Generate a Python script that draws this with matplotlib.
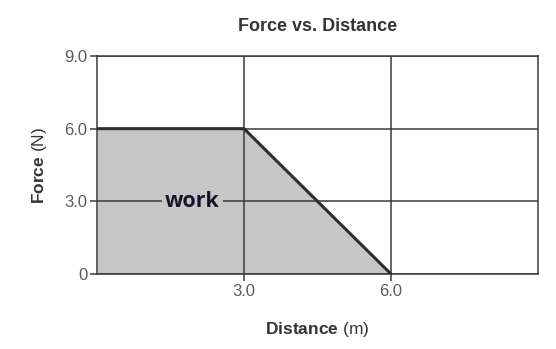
import matplotlib
matplotlib.use("Agg")
from matplotlib import pyplot as plt

plt.rcParams['font.family'] = ['Liberation Sans', 'DejaVu Sans']
plt.rcParams['mathtext.fontset'] = 'custom'
plt.rcParams['mathtext.rm'] = 'Liberation Sans'
plt.rcParams['mathtext.bf'] = 'Liberation Sans:bold'

# force vs distance profile
distance = [0.0, 3.0, 6.0]
force = [6.0, 6.0, 0.0]
x_ticks = [3.0, 6.0]
x_labels = ['3.0', '6.0']
y_ticks = [0, 3.0, 6.0, 9.0]
y_labels = ['0', '3.0', '6.0', '9.0']

dark = '#3a3a3a'
fig = plt.figure(figsize=(5.56, 3.49), dpi=100)
ax = fig.add_axes([0.1745, 0.215, 0.793, 0.6245])

ax.fill_between(distance, force, 0, color='#c6c6c6', lw=0, zorder=1)
ax.plot(distance, force, color='#2e2e2e', lw=2.2, zorder=4, solid_capstyle='butt')

ax.set_xlim(0, 9)
ax.set_ylim(0, 9)
ax.set_xticks(x_ticks)
ax.set_xticklabels(x_labels)
ax.set_yticks(y_ticks)
ax.set_yticklabels(y_labels)
ax.grid(True, color=dark, lw=1.1)
ax.set_axisbelow(False)
for s in ax.spines.values():
    s.set_color(dark)
    s.set_linewidth(1.1)
ax.tick_params(colors=dark, labelcolor='#5a5a5a', labelsize=12, length=5, width=1.1, pad=2)

ax.text(1.95, 3.0, 'work', family='Open Sans', fontweight='bold', fontsize=15.5,
        color='#15152a', ha='center', va='center', zorder=5,
        bbox=dict(facecolor='#c6c6c6', edgecolor='none', pad=2.5))

ax.set_title('Force vs. Distance', fontsize=13, fontweight='bold', color='#333333', pad=18)
ax.set_xlabel(r'$\mathbf{Distance}$ (m)', fontsize=12.5, color='#333333', labelpad=15)
ax.set_ylabel(r'$\mathbf{Force}$ (N)', fontsize=12.5, color='#333333', labelpad=11)

plt.savefig('out.png', dpi=100)
